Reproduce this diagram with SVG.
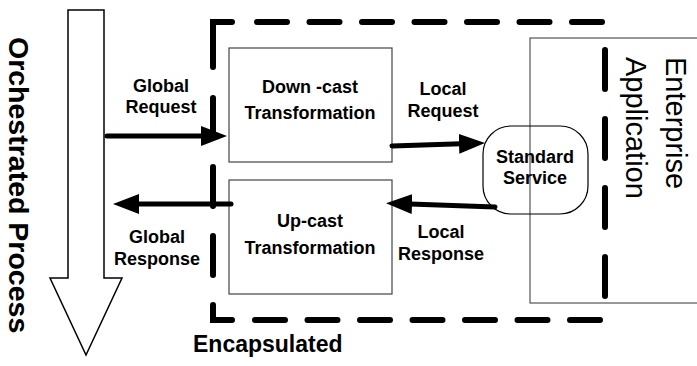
<svg xmlns="http://www.w3.org/2000/svg" width="697" height="366" viewBox="0 0 697 366">
  <style>
    .lbl { font-family: "Liberation Sans", Arial, sans-serif; font-weight: bold; font-size: 18px; fill: #000; text-anchor: middle; }
    .box { fill: #fff; stroke: #444; stroke-width: 1.2; }
    .dash { fill: none; stroke: #000; stroke-width: 6; stroke-linecap: round; stroke-linejoin: miter; }
    .conn { fill: none; stroke: #000; stroke-width: 5; stroke-linecap: round; }
  </style>
  <defs>
    <marker id="ah" markerUnits="userSpaceOnUse" markerWidth="28" markerHeight="22" refX="2" refY="10" orient="auto" viewBox="0 0 28 20">
      <path d="M0,0 L26,10 L0,20 Z" fill="#000"/>
    </marker>
  </defs>

  <g id="orchestrated-process">
    <polygon points="68,10 104,10 104,278 122,278 86,355 50,278 68,278" fill="#fff" stroke="#000" stroke-width="1.5"/>
    <text transform="translate(9,37) rotate(90)" font-family="'Liberation Sans', Arial, sans-serif" font-weight="bold" font-size="28.5">Orchestrated Process</text>
  </g>

  <g id="enterprise-application">
    <rect x="530" y="38" width="175" height="265" fill="none" stroke="#333" stroke-width="1"/>
    <path class="dash" d="M605 50 V296" stroke-dasharray="39 30"/>
    <text transform="translate(666,57) rotate(90)" font-family="'Liberation Sans', Arial, sans-serif" font-size="29">Enterprise</text>
    <text transform="translate(626,57) rotate(90)" font-family="'Liberation Sans', Arial, sans-serif" font-size="29">Application</text>
  </g>

  <g id="encapsulated">
    <path class="dash" d="M232 22 H213 V67"/>
    <path class="dash" d="M213 98 V276" stroke-dasharray="39 30"/>
    <path class="dash" d="M213 305 V320 H232"/>
    <path class="dash" d="M257 22 H607" stroke-dasharray="30 22.5"/>
    <path class="dash" d="M255 320 H604" stroke-dasharray="30 22.5"/>
    <text x="193" y="352" font-family="'Liberation Sans', Arial, sans-serif" font-weight="bold" font-size="23">Encapsulated</text>
  </g>

  <g id="down-cast">
    <rect class="box" x="229" y="48" width="163" height="114"/>
    <text class="lbl" x="310" y="93">Down -cast</text>
    <text class="lbl" x="310" y="119">Transformation</text>
  </g>

  <g id="up-cast">
    <rect class="box" x="229" y="180" width="163" height="114"/>
    <text class="lbl" x="310" y="227">Up-cast</text>
    <text class="lbl" x="310" y="254">Transformation</text>
  </g>

  <g id="standard-service">
    <rect x="483" y="126" width="105" height="88" rx="28" ry="28" fill="none" stroke="#000" stroke-width="1.2"/>
    <text class="lbl" x="535" y="163">Standard</text>
    <text class="lbl" x="535" y="184">Service</text>
  </g>

  <g id="connectors">
    <path class="conn" d="M107 136 H203" marker-end="url(#ah)"/>
    <path class="conn" d="M231 204 H137" marker-end="url(#ah)"/>
    <path class="conn" d="M392 146 L461 143.8" marker-end="url(#ah)"/>
    <path class="conn" d="M495 207 L410 204" marker-end="url(#ah)"/>
  </g>

  <g id="labels">
    <text class="lbl" x="161" y="92">Global</text>
    <text class="lbl" x="161" y="113">Request</text>
    <text class="lbl" x="157" y="243">Global</text>
    <text class="lbl" x="157" y="265">Response</text>
    <text class="lbl" x="443" y="95">Local</text>
    <text class="lbl" x="443" y="117">Request</text>
    <text class="lbl" x="441" y="238">Local</text>
    <text class="lbl" x="441" y="260">Response</text>
  </g>
</svg>
